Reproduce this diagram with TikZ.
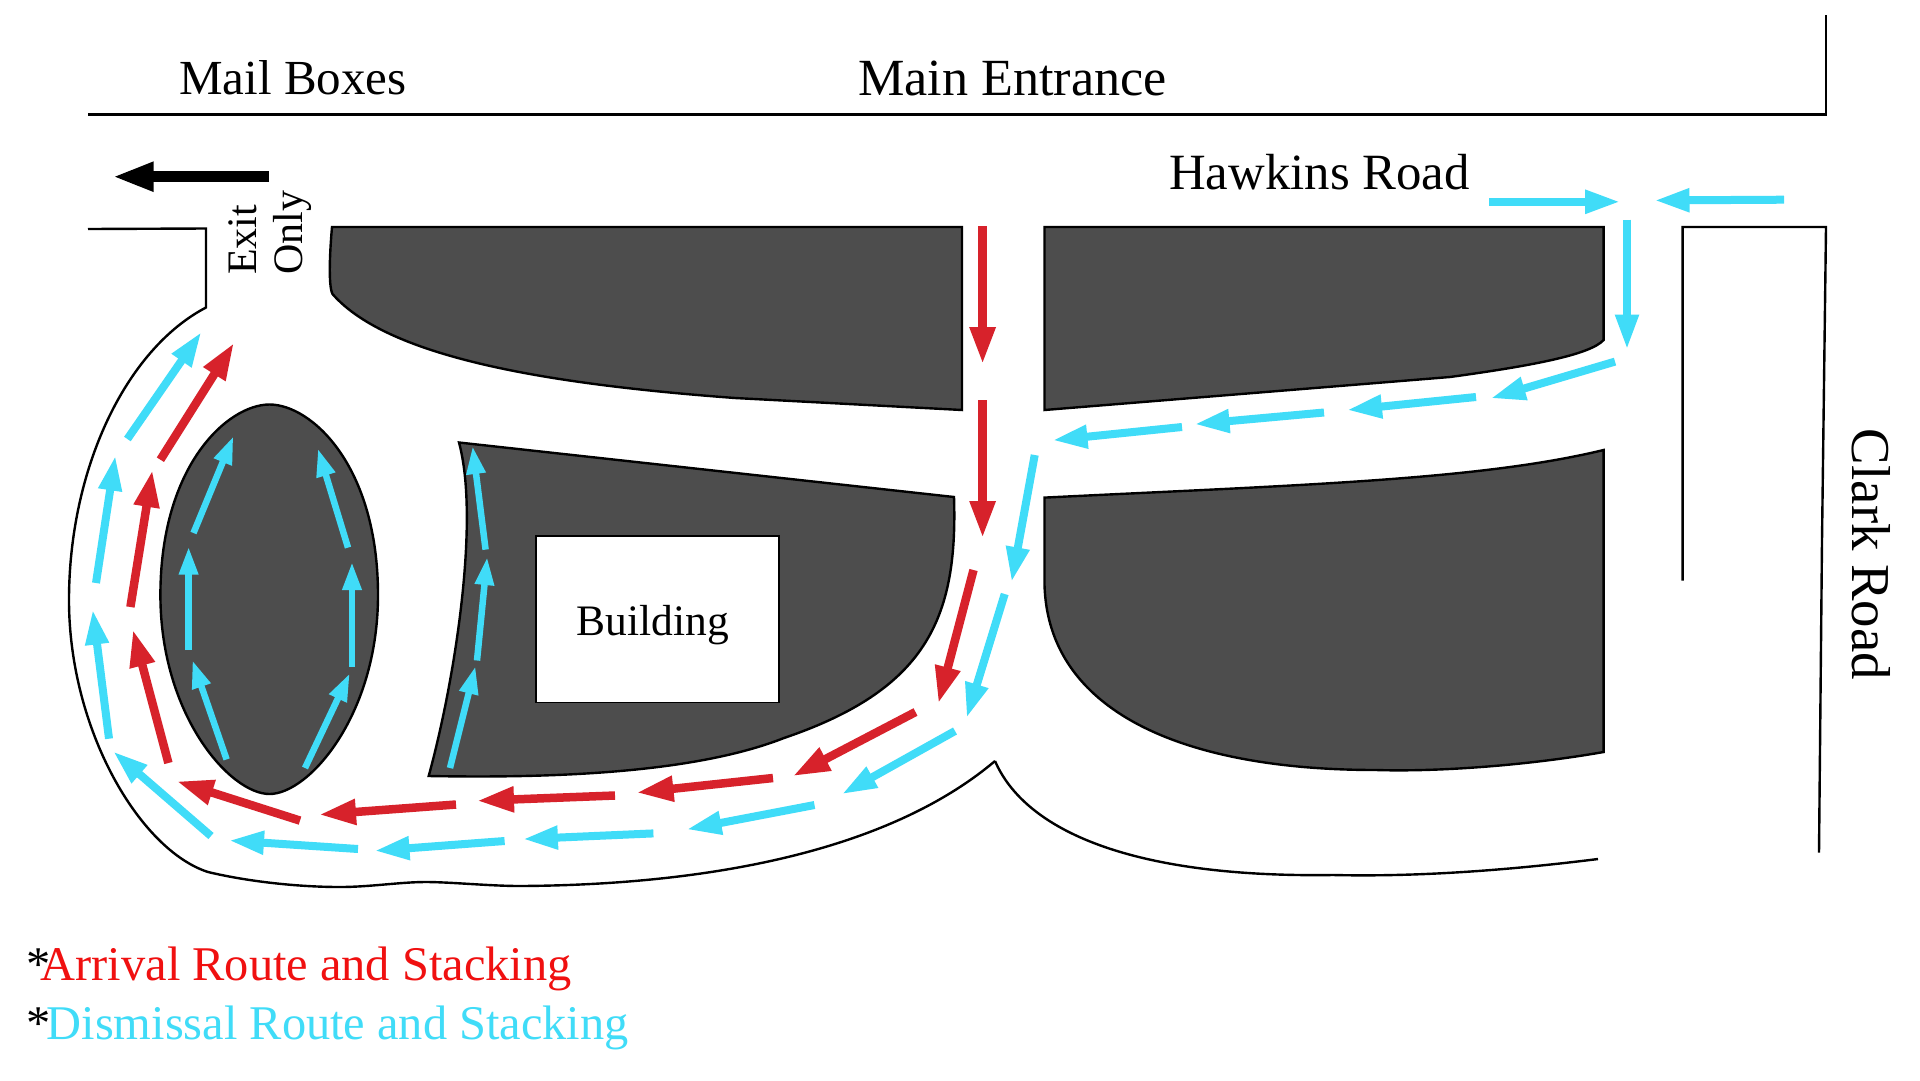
\documentclass[tikz,border=0pt]{standalone}
\usepackage{fontspec}
\setmainfont{Liberation Serif}
\usetikzlibrary{arrows.meta}
\definecolor{lot}{HTML}{4D4D4D}
\definecolor{arrred}{HTML}{D7222B}
\definecolor{arrblue}{HTML}{40DCF8}
\definecolor{legred}{HTML}{F01010}
\tikzset{
  wall/.style={draw=black,line width=2.4pt,line join=miter},
  lotshape/.style={draw=black,fill=lot,line width=2.4pt,line join=miter},
  lbl/.style={inner sep=0pt,anchor=base west},
  red route/.style={draw=arrred,line width=8.5pt,shorten >=-2.5pt,-{Triangle[length=37pt,width=24pt]}},
  blue route/.style={draw=arrblue,line width=8pt,shorten >=-2.5pt,-{Triangle[length=35pt,width=22pt]}},
  blue small/.style={draw=arrblue,line width=6.5pt,shorten >=-2pt,-{Triangle[length=28pt,width=18pt]}},
  exit arrow/.style={draw=black,line width=10.7pt,shorten >=-2.5pt,-{Triangle[length=41pt,width=27pt]}},
}
\newcommand{\fs}[1]{\fontsize{#1}{#1}\selectfont}
\begin{document}
\begin{tikzpicture}[x=1pt,y=-1pt]
\useasboundingbox (0,0) rectangle (1920,1080);
\fill[white] (0,0) rectangle (1920,1080);
% walls
\draw[wall] (88,114.5) -- (1826,114.5) -- (1826,14.5);
\draw[wall] (88,229) -- (206,228.5) -- (206,307.5)
  .. controls (125,350) and (69,470) .. (69,600)
  .. controls (69,730) and (140,850) .. (208,872)
  .. controls (250,882) and (300,887) .. (340,887)
  .. controls (370,887) and (400,882) .. (426,882)
  .. controls (450,882) and (490,886) .. (520,886)
  .. controls (700,885) and (885,854) .. (995,761);
\draw[wall] (995,761) .. controls (1025,830) and (1130,878) .. (1333,875)
  .. controls (1420,877) and (1510,870) .. (1598,859);
\draw[wall] (1682.6,580.6) -- (1682.6,227) -- (1826,227) -- (1822,540) -- (1819,852.5);
% lots
\draw[lotshape] (332,227) -- (962,227) -- (962,410) -- (735,398)
  .. controls (560,385) and (390,360) .. (332.5,294)
  .. controls (328,285) and (330,250) .. (332,227) -- cycle;
\draw[lotshape] (1044.5,227) -- (1603.6,227) -- (1603.6,340)
  .. controls (1590,355) and (1530,366) .. (1450,377) -- (1044.5,410) -- cycle;
\draw[lotshape] (269.5,404.5)
  .. controls (228,404.5) and (160.4,465) .. (160.4,595)
  .. controls (160.4,715) and (230,794) .. (269.5,794)
  .. controls (309,794) and (378,715) .. (378,595)
  .. controls (378,465) and (311,404.5) .. (269.5,404.5) -- cycle;
\draw[lotshape] (459,442.5) -- (954,497)
  .. controls (958,620) and (925,690) .. (784,738)
  .. controls (690,775) and (540,778) .. (428.7,776)
  .. controls (455,680) and (480,520) .. (459,442.5) -- cycle;
\draw[lotshape] (1044.5,497.6)
  .. controls (1300,485) and (1480,480) .. (1603.6,450)
  -- (1603.6,752)
  .. controls (1530,765) and (1440,772) .. (1376,770)
  .. controls (1180,770) and (1048,710) .. (1044.5,585) -- cycle;
\draw[draw=black,fill=white,line width=1.6pt] (536,536) rectangle (779,702.5);
% exit arrow
\draw[exit arrow] (269,176.7) -- (115,176.7);
% red route
\foreach \xa/\ya/\xb/\yb in {982.6/226/982.6/361.6, 982.6/400/982.6/535.5, 973.5/570/939/701, 915.5/712/795/775, 773/778/639/792.4, 615/795.5/479.5/800.7, 456/804.5/321.5/814.5, 300/820.6/179/782, 168.4/763/133.5/632, 130.4/607/152/472.5, 160.4/459.7/232.7/345}
  \draw[red route] (\xa,\ya) -- (\xb,\yb);
% blue route
\foreach \xa/\ya/\xb/\yb in {1489/201.8/1617.7/201.8, 1784/199.7/1657/200.4, 1627/219.7/1627/347, 1615/361.6/1493/397.7, 1476/397/1349.5/409.8, 1324/412.5/1197/424, 1182/427/1055/440, 1034.7/455/1012/579.6, 1004.7/594/967.3/715.6, 955/731/844/793, 814.5/805/689/829, 653.4/833.4/525.4/839, 504.6/841/377/850.6, 358/849/231.5/840.6, 211/836/115/753, 109/738.7/93/612, 96/583/115/458, 127.4/439/200/334}
  \draw[blue route] (\xa,\ya) -- (\xb,\yb);
\foreach \xa/\ya/\xb/\yb in {226.6/759.4/193/662, 188.6/650/188.6/548.6, 193.5/533/232.7/438, 305/768/349/675, 352/666.7/352/564, 348/547.6/318.4/450.4, 450/768/475/668, 477/660.5/487/559, 485.6/549.6/472.8/448}
  \draw[blue small] (\xa,\ya) -- (\xb,\yb);
% labels
\node[lbl] (mail) at (179,94.7) {\fs{49}Mail Boxes};
\node[lbl] (main) at (858,95) {\fs{52.2}Main Entrance};
\node[lbl] (hawkins) at (1169,189.4) {\fs{50.8}Hawkins Road};
\node[lbl,rotate=90] (exit) at (256,275) {\fs{42}Exit};
\node[lbl,rotate=90] (only) at (302,275) {\fs{42}Only};
\node[lbl,rotate=-90] (clark) at (1852,428.7) {\fs{54.8}Clark Road};
\node[lbl] (building) at (576.5,635.7) {\fs{43.5}Building};
\node[lbl] (arrival) at (26,980.8) {\fs{48.4}\makebox[14.5pt][l]{*}\textcolor{legred}{Arrival Route and Stacking}};
\node[lbl] (dismissal) at (26,1039) {\fs{48.4}\makebox[20.5pt][l]{*}\textcolor{arrblue}{Dismissal Route and Stacking}};
\end{tikzpicture}
\end{document}
